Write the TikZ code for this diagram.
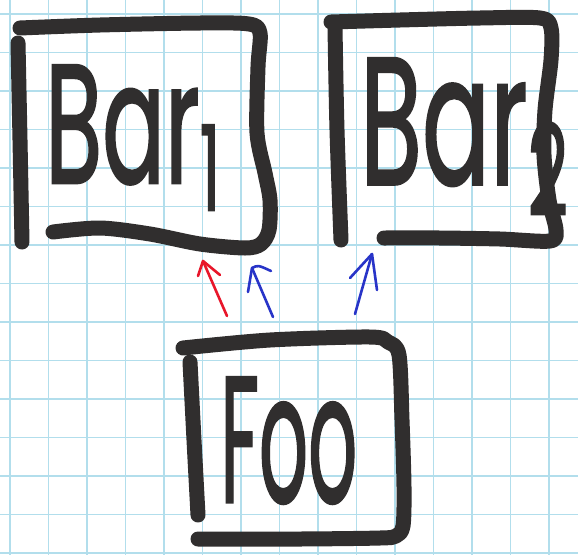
\documentclass[tikz,border=0pt]{standalone}
\usepackage{fontspec}
\usepackage{graphicx}
\newfontfamily\hand{Poppins}[FakeBold=1.6]
\definecolor{ink}{RGB}{48,46,46}
\definecolor{gridblue}{RGB}{178,222,236}
\definecolor{penred}{RGB}{232,22,42}
\definecolor{penblue}{RGB}{40,52,200}
\tikzset{
  gridline/.style={draw=gridblue, line width=1.3pt},
  marker/.style={draw=ink, line width=15pt, line cap=round, line join=round},
  pen/.style={line width=2.6pt, line cap=round, line join=round},
  label/.style={anchor=north west, inner sep=0pt, text=ink},
}
\begin{document}
\begin{tikzpicture}[x=1pt, y=-1pt]
  % paper
  \fill[white] (0,0) rectangle (578,555);
  \useasboundingbox (0,0) rectangle (578,555);
  % squared grid
  \foreach \k in {0,...,14} {
    \draw[gridline] ({10+38.5*\k},0) -- ({10+38.5*\k},555);
    \draw[gridline] (0,{14+38.5*\k}) -- (578,{14+38.5*\k});
  }

  % labels
  \node[label] (bar1) at (45,65)
    {\resizebox*{180pt}{145pt}{\hand Bar\textsubscript{1}}};
  \node[label] (bar2) at (360,58)
    {\resizebox*{213pt}{157pt}{\hand Bar\textsubscript{2}}};
  \node[label] (foo) at (220,377)
    {\resizebox{137pt}{125pt}{\hand Foo}};

  % box around Bar1: top, right and bottom in one stroke, left apart
  \draw[marker] plot[smooth, tension=0.5] coordinates {
    (20,28) (100,25) (200,23) (249,24) (260,33) (258,67) (257,133)
    (265,173) (270,200) (269,230) (261,244) (245,248) (200,244)
    (150,234) (100,228) (53,232)};
  \draw[marker] plot[smooth, tension=0.5] coordinates {(18,43) (20,140) (22,242)};

  % box around Bar2
  \draw[marker] plot[smooth, tension=0.5] coordinates {
    (331,22) (400,20) (480,18) (540,18) (551,28) (551,60) (545,110)
    (544,155) (549,200) (556,230) (550,241) (500,239) (440,238) (384,238)};
  \draw[marker] plot[smooth, tension=0.5] coordinates {(335,27) (337,130) (341,240)};

  % box around Foo
  \draw[marker] plot[smooth, tension=0.5] coordinates {
    (183,348) (270,340) (370,337) (388,342) (399,355) (402,420)
    (404,487) (403,526) (396,536) (380,538) (300,539) (198,539)};
  \draw[marker] plot[smooth, tension=0.5] coordinates {(190,362) (194,440) (198,515)};

  % arrow ends
  \coordinate (redtail) at (227,316);
  \coordinate (redtip)  at (203,261);
  \coordinate (redl)    at (198,276);
  \coordinate (redr)    at (220,275);
  \coordinate (bluetailA) at (273,317);
  \coordinate (bluetipA)  at (252,268);
  \coordinate (bluelA)    at (248,292);
  \coordinate (bluerA)    at (271,271);
  \coordinate (bluetailB) at (355,314);
  \coordinate (bluetipB)  at (372,254);
  \coordinate (bluelB)    at (350,278);
  \coordinate (bluerB)    at (377,290);

  % pen arrows from Foo up to the two boxes
  \draw[pen, penred] (redtail) -- (redtip);
  \draw[pen, penred] (redl) -- (redtip) -- (redr);
  \draw[pen, penblue] (bluetailA) -- (bluetipA);
  \draw[pen, penblue] (bluelA) -- (bluetipA) .. controls (258,265) .. (bluerA);
  \draw[pen, penblue] (bluetailB) -- (bluetipB);
  \draw[pen, penblue] (bluelB) -- (bluetipB) -- (bluerB);
\end{tikzpicture}
\end{document}
